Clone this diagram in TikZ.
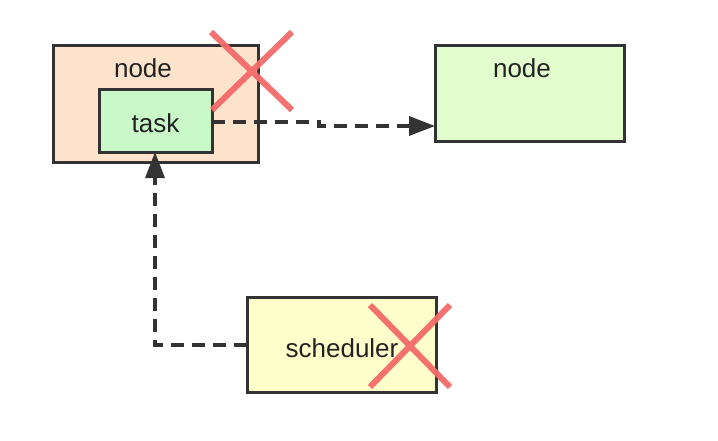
\documentclass[tikz,border=0pt]{standalone}
\usepackage{fontspec}
\setmainfont{Liberation Sans}
\usetikzlibrary{arrows.meta}
\definecolor{bordergray}{HTML}{333333}
\definecolor{peach}{HTML}{FDE3CB}
\definecolor{taskgreen}{HTML}{C9F8C9}
\definecolor{lightgreen}{HTML}{E3FDCE}
\definecolor{paleyellow}{HTML}{FFFFCC}
\definecolor{xred}{HTML}{F46A6A}
\definecolor{txt}{HTML}{222222}
\tikzset{
  box/.style={draw=bordergray, line width=3pt, inner sep=0pt, outer sep=0pt, anchor=north west},
  lbl/.style={font=\fontsize{26}{31}\selectfont, text=txt, inner sep=0pt},
  conn/.style={draw=bordergray, line width=3.3pt, dash pattern=on 13pt off 8pt,
    -{Triangle[length=26pt, width=19pt]}},
  xmark/.style={draw=xred, line width=6pt, opacity=0.95},
}
\begin{document}
\begin{tikzpicture}[x=1pt,y=-1pt]
\useasboundingbox (0,0) rectangle (718,440);
% outer node
\node[box, fill=peach, minimum width=205pt, minimum height=117pt] (outer) at (53,45) {};
\node[lbl] (outerlbl) at (143,68) {node};
% task
\node[box, fill=taskgreen, minimum width=113pt, minimum height=63pt] (task) at (99,89) {};
\node[lbl] (tasklbl) at (155.5,123) {task};
% right node
\node[box, fill=lightgreen, minimum width=189pt, minimum height=96pt] (node2) at (435,45) {};
\node[lbl] (node2lbl) at (522,68) {node};
% scheduler
\node[box, fill=paleyellow, minimum width=189pt, minimum height=95pt] (sched) at (247,297) {};
\node[lbl] (schedlbl) at (342,348) {scheduler};
% connectors
\coordinate (bend1) at (319,122);
\draw[conn] (task.east |- bend1) -- (bend1) -- ++(0,4) -- (node2.west |- 0,126);
\coordinate (bend2) at (155,345);
\draw[conn] (sched.west |- bend2) -- (bend2) -- (task.south -| bend2);
% red crosses
\draw[xmark] (211,32) -- (292,110) (292,32) -- (212,110);
\draw[xmark] (370,305) -- (450,387) (450,305) -- (370,387);
\end{tikzpicture}
\end{document}
